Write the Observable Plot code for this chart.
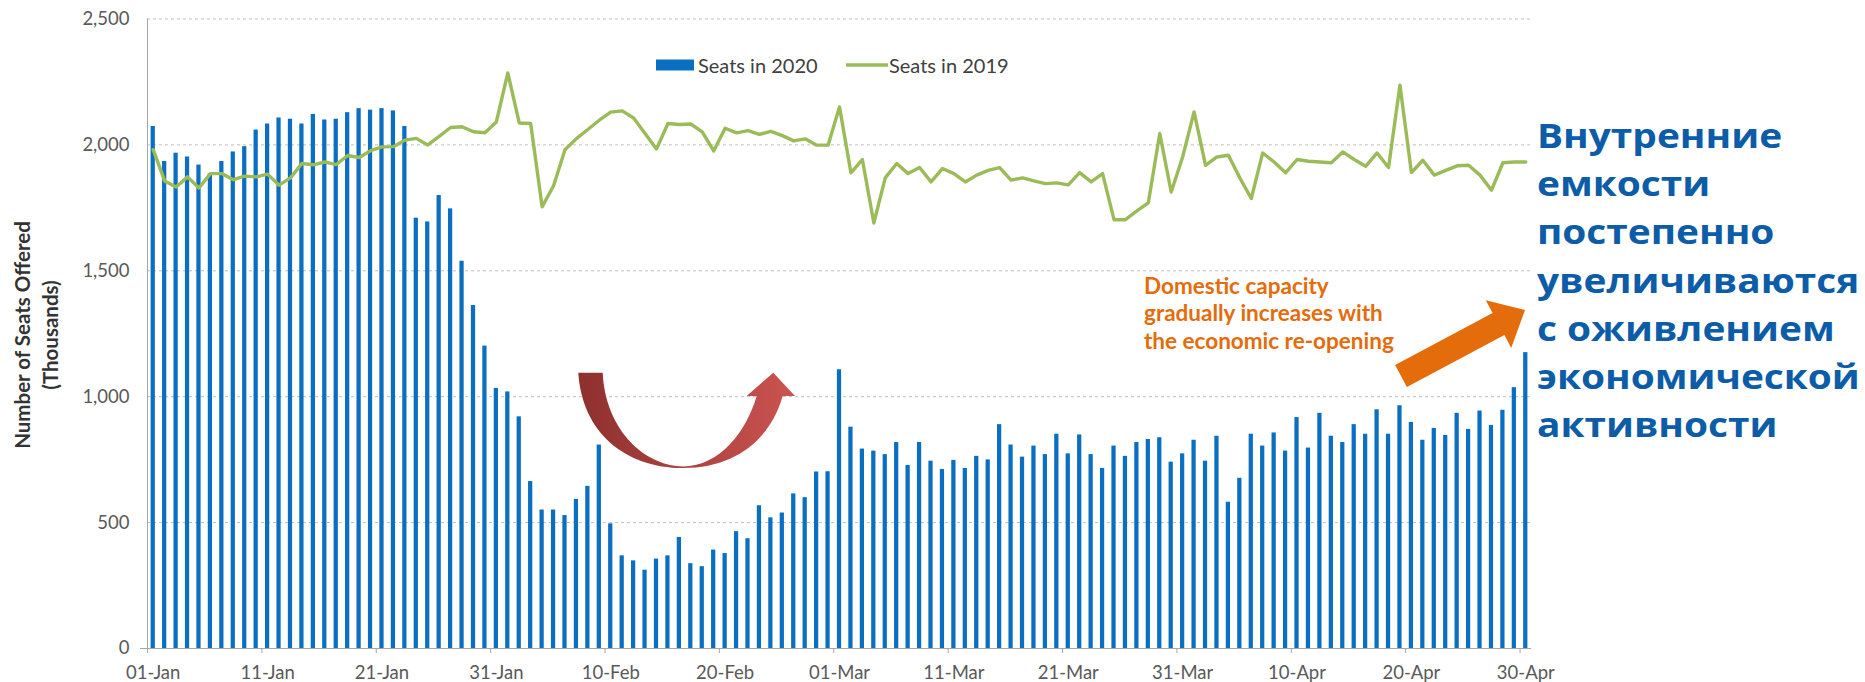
<!DOCTYPE html>
<html><head><meta charset="utf-8">
<script src="https://cdn.jsdelivr.net/npm/d3@7"></script>
<script src="https://cdn.jsdelivr.net/npm/@observablehq/plot@0.6"></script>
<style>html,body{margin:0;padding:0;background:#fff;} #chart{width:1865px;height:682px;overflow:hidden}</style>
</head><body><div id="chart"></div>
<script>
// ---- data (thousands of seats offered, daily, 01-Jan .. 30-Apr) ----
const firstDay = "2020-01-01";
const lastDay = "2020-04-30";
const seats2020 = [
  2073,1934,1967,1952,1920,1885,1934,1972,1993,2059,
  2083,2107,2102,2083,2121,2099,2102,2128,2144,2138,
  2144,2135,2073,1709,1694,1799,1746,1538,1362,1201,1033,
  1019,920,663,550,550,528,592,644,808,495,
  368,348,311,355,368,441,337,325,391,377,
  464,436,567,519,538,614,599,701,702,
  1107,879,792,784,770,818,727,818,744,711,
  747,715,763,749,889,808,760,804,770,851,
  773,848,770,715,804,763,818,830,837,740,773,
  827,744,843,581,676,851,804,856,784,917,
  796,934,843,818,889,851,948,851,964,898,
  827,874,846,934,870,943,886,946,1036,1175
];
const seats2019 = [
  1981,1857,1833,1873,1829,1886,1886,1862,1876,1873,
  1884,1840,1869,1926,1921,1932,1922,1958,1950,1977,
  1992,1993,2019,2026,2000,2034,2069,2072,2052,2048,2091,
  2286,2087,2085,1754,1838,1981,2025,2061,2098,2130,
  2135,2107,2045,1984,2085,2081,2083,2052,1976,2066,
  2048,2057,2042,2054,2037,2016,2024,1999,1999,
  2151,1889,1942,1690,1869,1926,1886,1910,1853,1906,
  1886,1853,1880,1899,1910,1860,1869,1857,1846,1849,
  1841,1890,1853,1886,1703,1703,1738,1770,2045,1813,1952,
  2131,1919,1952,1959,1869,1787,1968,1932,1889,1942,
  1935,1932,1929,1972,1942,1915,1968,1910,2237,1890,
  1939,1880,1899,1917,1919,1880,1820,1929,1932,1932
];
const xTickLabels = ["01-Jan","11-Jan","21-Jan","31-Jan","10-Feb","20-Feb","01-Mar","11-Mar","21-Mar","31-Mar","10-Apr","20-Apr","30-Apr"];
const yTicks = [0,500,1000,1500,2000,2500];
const seriesNames = ["Seats in 2020","Seats in 2019"];
const yTitle = ["Number of Seats Offered","(Thousands)"];
const noteEn = ["Domestic capacity","gradually increases with","the economic re-opening"];
const noteRu = ["Внутренние","емкости","постепенно","увеличиваются","с оживлением","экономической","активности"];

// ---- build table ----
const dates = d3.utcDay.range(new Date(firstDay), d3.utcDay.offset(new Date(lastDay), 1));
const rows = dates.map((d, i) => ({
  date: d, next: d3.utcDay.offset(d, 1), mid: new Date(+d + 12 * 3600e3),
  v2020: seats2020[i], v2019: seats2019[i]
}));
const parseLabel = d3.utcParse("%d-%b-%Y");
const tickDates = xTickLabels.map(s => parseLabel(s + "-2020"));
const labelDates = tickDates.map(d => new Date(+d + 12 * 3600e3));

const BLUE = "#0A6EC1", GREEN = "#9BBB59", AXIS = "#A6A6A6";
const fmtComma = d3.format(",");

const svg = Plot.plot({
  width: 1865, height: 682,
  marginLeft: 147, marginRight: 334, marginTop: 18.5, marginBottom: 34,
  x: {type: "utc", domain: [dates[0], d3.utcDay.offset(dates[dates.length - 1], 1)]},
  y: {domain: [0, 2500]},
  style: {fontFamily: "Lato, 'Open Sans', sans-serif", fontSize: "18.5px", color: "#595959", background: "white", overflow: "visible"},
  marks: [
    Plot.gridY(yTicks.filter(v => v > 0), {stroke: "#BFBFBF", strokeOpacity: 1, strokeDasharray: "3,3"}),
    Plot.rectY(rows, {x1: "date", x2: "next", y: "v2020", fill: BLUE, insetLeft: 3.6, insetRight: 3.6}),
    Plot.line(rows, {x: "mid", y: "v2019", stroke: GREEN, strokeWidth: 3.4, strokeLinejoin: "round"}),
    Plot.ruleY([0], {stroke: AXIS, insetLeft: -7}),
    Plot.ruleX([dates[0]], {stroke: AXIS}),
    Plot.axisY({ticks: yTicks, tickSize: 0, tickPadding: 18, tickFormat: d => fmtComma(d), fill: "#595959", label: null}),
    Plot.axisX({ticks: tickDates, tickSize: 5, tickFormat: () => "", stroke: AXIS, label: null}),
    Plot.axisX({ticks: labelDates, tickSize: 0, tickPadding: 17, tickFormat: d3.utcFormat("%d-%b"), fill: "#595959", label: null})
  ]
});
document.getElementById("chart").appendChild(svg);

// ---- decorations ----
const g = d3.select(svg).append("g").attr("text-anchor", "start");

// y-axis title
yTitle.forEach((t, i) => {
  g.append("text").attr("transform", `translate(${21.5 + i * 28.5},335) rotate(-90)`)
    .attr("text-anchor", "middle").attr("dominant-baseline", "central")
    .attr("font-family", "Lato, sans-serif").attr("font-weight", "bold").attr("font-size", 20.5)
    .attr("fill", "#333").text(t);
});

// legend
g.append("rect").attr("x", 656).attr("y", 59.5).attr("width", 38).attr("height", 11).attr("fill", BLUE);
g.append("text").attr("x", 698).attr("y", 65).attr("dominant-baseline", "central").attr("text-anchor", "start")
  .attr("font-family", "Lato, sans-serif").attr("font-size", 20).attr("fill", "#404040").text(seriesNames[0]);
g.append("line").attr("x1", 846).attr("x2", 888).attr("y1", 65).attr("y2", 65).attr("stroke", GREEN).attr("stroke-width", 3.4);
g.append("text").attr("x", 889).attr("y", 65).attr("dominant-baseline", "central").attr("text-anchor", "start")
  .attr("font-family", "Lato, sans-serif").attr("font-size", 20).attr("fill", "#404040").text(seriesNames[1]);

// curved red arrow
const defs = d3.select(svg).append("defs");
const grad = defs.append("linearGradient").attr("id", "redgrad").attr("x1", "0").attr("x2", "1").attr("y1", "0").attr("y2", "0");
grad.append("stop").attr("offset", "0").attr("stop-color", "#8E302E");
grad.append("stop").attr("offset", "1").attr("stop-color", "#CB5450");
g.append("path").attr("fill", "url(#redgrad)").attr("d",
  "M578.3,372.7 L602.7,372.7 " +
  "C605,425 640,465 683,466.5 " +
  "C720,466 746,432 756.7,396 " +
  "L746.7,396 L773.3,372.7 L795,396 L782.7,396 " +
  "C770,440 735,468 683,468 " +
  "C625,468 582,432 578.3,372.7 Z");

// orange arrow
g.append("path").attr("fill", "#E46C0A").attr("d",
  "M1406.9,387 L1395.1,365 L1492.6,313.1 L1485.8,300.3 L1525,310 L1511.2,347.9 L1504.4,335.1 Z");

// orange note
noteEn.forEach((t, i) => {
  g.append("text").attr("x", 1144).attr("y", 285.5 + i * 27.4).attr("dominant-baseline", "central").attr("text-anchor", "start")
    .attr("font-family", "Lato, sans-serif").attr("font-weight", "bold").attr("font-size", 22.5)
    .attr("fill", "#E46C0A").text(t);
});

// Russian note
const ru = g.append("g");
noteRu.forEach((t, i) => {
  ru.append("text").attr("x", 0).attr("y", 148.3 + i * 48.1).attr("text-anchor", "start")
    .attr("font-family", "'Open Sans', 'Noto Sans', sans-serif").attr("font-weight", "bold").attr("font-size", 33.5)
    .attr("fill", "#0C5CA8").text(t);
});
let maxW = 0;
ru.selectAll("text").each(function () { maxW = Math.max(maxW, this.getComputedTextLength()); });
const sx = maxW > 0 ? 323 / maxW : 1;
ru.attr("transform", `translate(1537,0) scale(${sx},1)`);
</script>
</body></html>
